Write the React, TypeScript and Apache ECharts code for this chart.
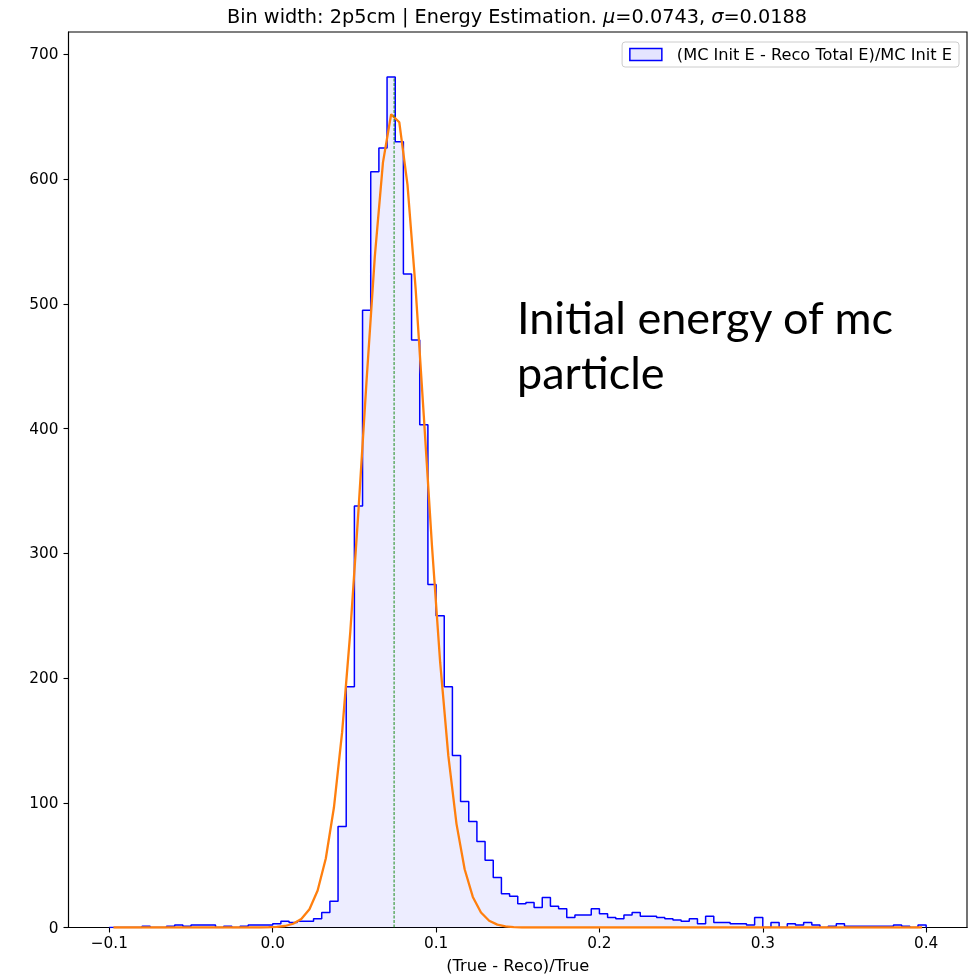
import { useEffect, useRef } from 'react';
import * as echarts from 'echarts';

// Histogram bins: start and width of bins, counts per bin
const binStart = -0.1;
const binWidth = 0.005;
const histCounts = [
  0, 0, 0, 0, 1, 0, 0, 1, 2, 1,
  2, 2, 2, 0, 1, 0, 1, 2, 2, 2,
  3, 5, 4, 5, 5, 7, 12, 21, 81, 193,
  338, 495, 606, 625, 682, 630, 524, 471, 403, 275,
  250, 193, 138, 101, 85, 69, 54, 40, 27, 25,
  19, 20, 16, 24, 17, 15, 8, 10, 10, 15,
  11, 8, 7, 10, 12, 9, 9, 8, 7, 6,
  5, 7, 3, 9, 4, 4, 3, 3, 2, 8,
  0, 4, 0, 3, 2, 4, 2, 0, 1, 3,
  1, 1, 1, 1, 1, 1, 2, 1, 0, 2,
];
// Gaussian fit curve, read at bin centres
const fitCurve = [
  0, 0, 0, 0, 0, 0, 0, 0, 0, 0,
  0, 0, 0, 0, 0, 0, 0, 0, 0, 0.2,
  0.5, 1.2, 3.0, 6.8, 14.7, 29.6, 55.3, 96.4, 156.6, 237.1,
  334.4, 439.4, 537.9, 613.5, 652.0, 645.6, 595.6, 511.9, 410.0, 305.9,
  212.7, 137.8, 83.1, 46.7, 24.5, 12.0, 5.4, 2.3, 0.9, 0.3,
  0, 0, 0, 0, 0, 0, 0, 0, 0, 0,
  0, 0, 0, 0, 0, 0, 0, 0, 0, 0,
  0, 0, 0, 0, 0, 0, 0, 0, 0, 0,
  0, 0, 0, 0, 0, 0, 0, 0, 0, 0,
  0, 0, 0, 0, 0, 0, 0, 0, 0, 0,
];
const fitMu = 0.0743;
const xTickValues = [-0.1, 0.0, 0.1, 0.2, 0.3, 0.4];
const yTickValues = [0, 100, 200, 300, 400, 500, 600, 700];
const xRange = [-0.125, 0.425];
const yRange = [0, 718];

const titleText = 'Bin width: 2p5cm | Energy Estimation. {i|μ}=0.0743, {i|σ}=0.0188';
const legendLabel = '(MC Init E - Reco Total E)/MC Init E';
const xAxisTitle = '(True - Reco)/True';
const noteLines = ['Initial energy of mc', 'particle'];

const FONT = 'DejaVu Sans';

export default function App() {
  const ref = useRef<HTMLDivElement>(null);
  useEffect(() => {
    const chart = echarts.init(ref.current!, null, { renderer: 'svg' });
    const n = histCounts.length;
    const lastEdge = binStart + n * binWidth;
    const stepData: number[][] = [[binStart, 0]];
    histCounts.forEach((c, i) => stepData.push([binStart + i * binWidth, c]));
    stepData.push([lastEdge, histCounts[n - 1]]);
    stepData.push([lastEdge, 0]);
    const fitData = fitCurve.map((v, i) => [binStart + (i + 0.5) * binWidth, v]);
    const peak = Math.max(...histCounts);
    const fmt = (v: number) => (v < 0 ? '\u2212' : '') + Math.abs(v).toFixed(1);

    chart.setOption({
      animation: false,
      grid: { left: 68.5, right: 2, top: 32, bottom: 51.5, show: true, borderColor: '#000', borderWidth: 1.1, outerBoundsMode: 'none' },
      xAxis: {
        type: 'value',
        min: xRange[0],
        max: xRange[1],
        name: xAxisTitle,
        nameLocation: 'middle',
        nameGap: 30,
        nameTextStyle: { fontFamily: FONT, fontSize: 16.3, color: '#000' },
        axisLine: { show: true, onZero: false, lineStyle: { color: '#000', width: 1.1 } },
        axisTick: { show: true, inside: false, length: 5, lineStyle: { color: '#000', width: 1.1 }, customValues: xTickValues },
        axisLabel: { fontFamily: FONT, fontSize: 15.3, color: '#000', margin: 8, customValues: xTickValues, formatter: fmt },
        splitLine: { show: false },
      },
      yAxis: {
        type: 'value',
        min: yRange[0],
        max: yRange[1],
        axisLine: { show: true, onZero: false, lineStyle: { color: '#000', width: 1.1 } },
        axisTick: { show: true, inside: false, length: 5, lineStyle: { color: '#000', width: 1.1 }, customValues: yTickValues },
        axisLabel: { fontFamily: FONT, fontSize: 15.3, color: '#000', margin: 10, customValues: yTickValues },
        splitLine: { show: false },
      },
      legend: {
        right: 10,
        top: 42,
        padding: [4.5, 7, 4.5, 7],
        itemWidth: 32,
        itemHeight: 12,
        backgroundColor: 'rgba(255,255,255,0.8)',
        borderColor: '#cccccc',
        borderWidth: 1,
        borderRadius: 3,
        selectedMode: false,
        textStyle: { fontFamily: FONT, fontSize: 16.2, color: '#000', padding: [0, 0, 0, 10] },
        data: [{ name: legendLabel, icon: 'rect', itemStyle: { color: 'rgba(0,0,255,0.1)', borderColor: '#0000ff', borderWidth: 1.5 } }],
      },
      graphic: [
        {
          type: 'text',
          x: 517,
          y: 16,
          silent: true,
          style: {
            text: titleText,
            fontFamily: FONT,
            fontSize: 19.3,
            fill: '#000',
            align: 'center',
            verticalAlign: 'middle',
            rich: { i: { fontFamily: FONT, fontSize: 19.3, fontStyle: 'italic', fill: '#000' } },
          },
        },
        {
          type: 'text',
          x: 517,
          y: 289,
          silent: true,
          style: {
            text: noteLines.join('\n'),
            fontFamily: 'Lato',
            fontSize: 45,
            lineHeight: 55,
            fill: '#000',
            align: 'left',
            verticalAlign: 'top',
          },
        },
      ],
      series: [
        {
          name: legendLabel,
          type: 'line',
          step: 'end',
          data: stepData,
          showSymbol: false,
          silent: true,
          lineStyle: { color: '#0000ff', width: 1.5 },
          itemStyle: { color: '#0000ff' },
          areaStyle: { color: 'rgba(0,0,255,0.1)', origin: 'start' },
          z: 2,
        },
        {
          name: 'fit',
          type: 'line',
          data: fitData,
          showSymbol: false,
          silent: true,
          lineStyle: { color: '#ff7f0e', width: 2.3 },
          itemStyle: { color: '#ff7f0e' },
          z: 3,
        },
        {
          name: 'mean',
          type: 'line',
          data: [[fitMu, 0], [fitMu, peak]],
          showSymbol: false,
          silent: true,
          lineStyle: { color: '#008000', width: 0.9, type: [3, 1.5] },
          itemStyle: { color: '#008000' },
          z: 4,
        },
      ],
    });
    return () => chart.dispose();
  }, []);
  return <div ref={ref} style={{ position: 'fixed', left: 0, top: 0, width: 969, height: 979 }} />;
}
